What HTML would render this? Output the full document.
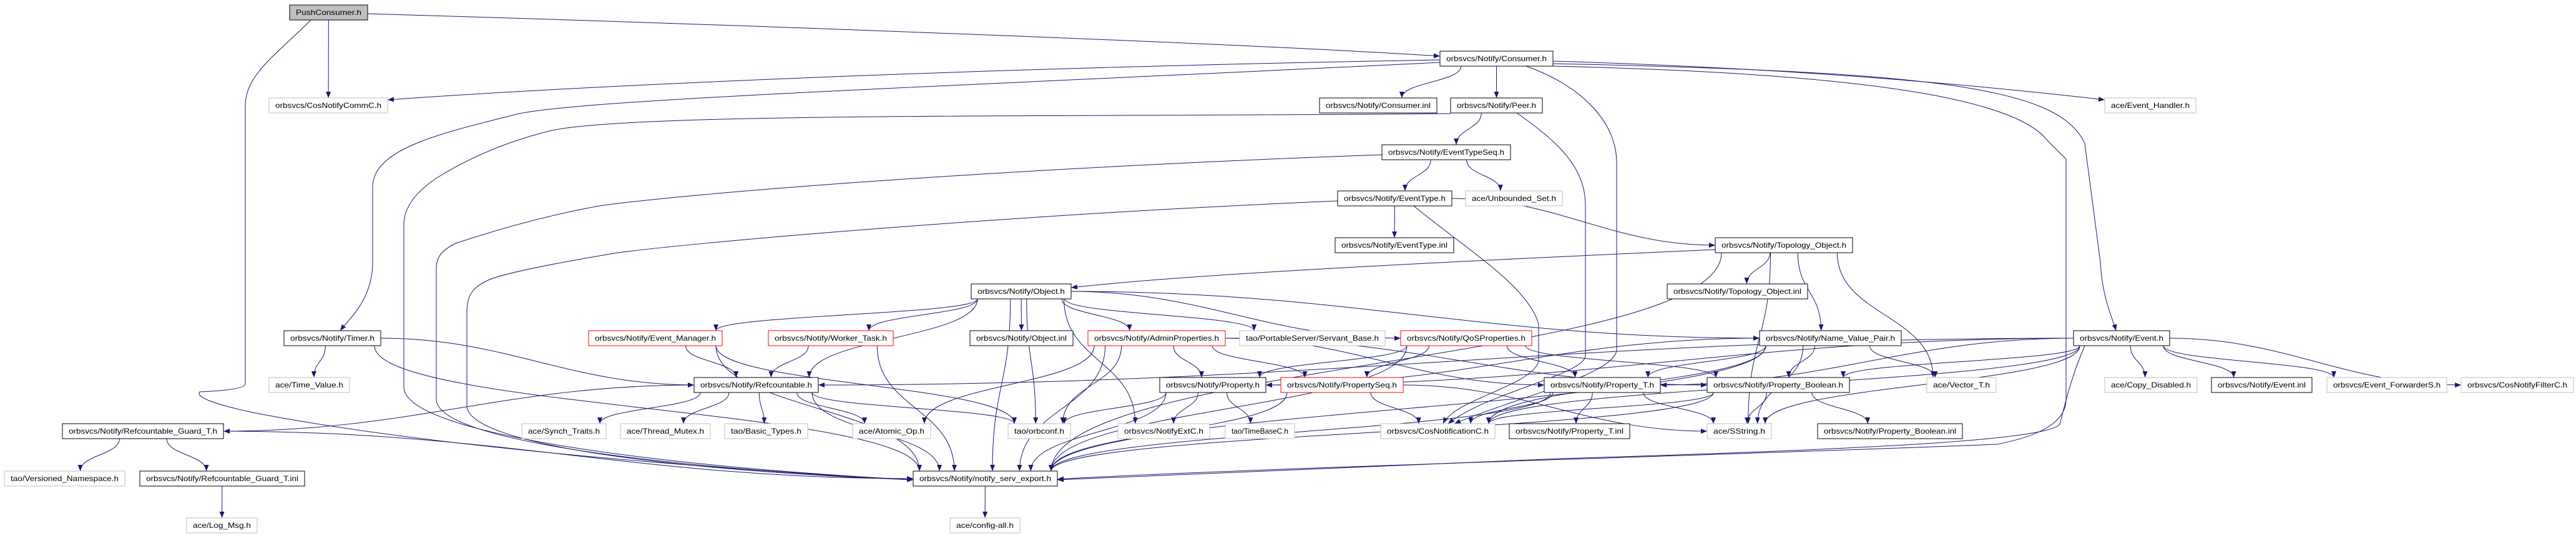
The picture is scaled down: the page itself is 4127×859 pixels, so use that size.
<!DOCTYPE html>
<html><head><meta charset="utf-8"><style>
html,body{margin:0;padding:0;background:#fff;}
svg{display:block;}
text{font-family:"Liberation Sans",sans-serif;font-size:12px;fill:#000;}
</style></head><body>
<svg id="g" width="4127" height="859" xmlns="http://www.w3.org/2000/svg">
<defs><marker id="a" viewBox="0 0 10 8" refX="10" refY="4" markerWidth="10" markerHeight="8" markerUnits="userSpaceOnUse" orient="auto"><path d="M0,0L10,4L0,8z" fill="#191970"/></marker></defs>
<g id="edges" fill="none" stroke="#191970" stroke-width="1"></g>
<g id="nodes" stroke-width="1">
<rect x="464" y="8" width="125" height="24" fill="#bfbfbf" stroke="#000"/><text x="474" y="24" textLength="105" lengthAdjust="spacingAndGlyphs">PushConsumer.h</text>
<rect x="431" y="157" width="190" height="24" fill="#fff" stroke="#bfbfbf"/><text x="441" y="173" textLength="170" lengthAdjust="spacingAndGlyphs">orbsvcs/CosNotifyCommC.h</text>
<rect x="2307" y="82" width="181" height="24" fill="#fff" stroke="#000"/><text x="2317" y="98" textLength="161" lengthAdjust="spacingAndGlyphs">orbsvcs/Notify/Consumer.h</text>
<rect x="2114" y="157" width="188" height="24" fill="#fff" stroke="#000"/><text x="2124" y="173" textLength="168" lengthAdjust="spacingAndGlyphs">orbsvcs/Notify/Consumer.inl</text>
<rect x="2324" y="157" width="147" height="24" fill="#fff" stroke="#000"/><text x="2334" y="173" textLength="127" lengthAdjust="spacingAndGlyphs">orbsvcs/Notify/Peer.h</text>
<rect x="3372" y="157" width="146" height="24" fill="#fff" stroke="#bfbfbf"/><text x="3382" y="173" textLength="126" lengthAdjust="spacingAndGlyphs">ace/Event_Handler.h</text>
<rect x="2214" y="232" width="206" height="24" fill="#fff" stroke="#000"/><text x="2224" y="248" textLength="186" lengthAdjust="spacingAndGlyphs">orbsvcs/Notify/EventTypeSeq.h</text>
<rect x="2143" y="306" width="183" height="24" fill="#fff" stroke="#000"/><text x="2153" y="322" textLength="163" lengthAdjust="spacingAndGlyphs">orbsvcs/Notify/EventType.h</text>
<rect x="2348" y="306" width="155" height="24" fill="#fff" stroke="#bfbfbf"/><text x="2358" y="322" textLength="135" lengthAdjust="spacingAndGlyphs">ace/Unbounded_Set.h</text>
<rect x="2139" y="381" width="190" height="24" fill="#fff" stroke="#000"/><text x="2149" y="397" textLength="170" lengthAdjust="spacingAndGlyphs">orbsvcs/Notify/EventType.inl</text>
<rect x="2748" y="381" width="220" height="24" fill="#fff" stroke="#000"/><text x="2758" y="397" textLength="200" lengthAdjust="spacingAndGlyphs">orbsvcs/Notify/Topology_Object.h</text>
<rect x="1556" y="455" width="160" height="24" fill="#fff" stroke="#000"/><text x="1566" y="471" textLength="140" lengthAdjust="spacingAndGlyphs">orbsvcs/Notify/Object.h</text>
<rect x="2671" y="455" width="225" height="24" fill="#fff" stroke="#000"/><text x="2681" y="471" textLength="205" lengthAdjust="spacingAndGlyphs">orbsvcs/Notify/Topology_Object.inl</text>
<rect x="455" y="530" width="155" height="24" fill="#fff" stroke="#000"/><text x="465" y="546" textLength="135" lengthAdjust="spacingAndGlyphs">orbsvcs/Notify/Timer.h</text>
<rect x="943" y="530" width="214" height="24" fill="#fff" stroke="#f00"/><text x="953" y="546" textLength="194" lengthAdjust="spacingAndGlyphs">orbsvcs/Notify/Event_Manager.h</text>
<rect x="1231" y="530" width="200" height="24" fill="#fff" stroke="#f00"/><text x="1241" y="546" textLength="180" lengthAdjust="spacingAndGlyphs">orbsvcs/Notify/Worker_Task.h</text>
<rect x="1554" y="530" width="165" height="24" fill="#fff" stroke="#000"/><text x="1564" y="546" textLength="145" lengthAdjust="spacingAndGlyphs">orbsvcs/Notify/Object.inl</text>
<rect x="1743" y="530" width="220" height="24" fill="#fff" stroke="#f00"/><text x="1753" y="546" textLength="200" lengthAdjust="spacingAndGlyphs">orbsvcs/Notify/AdminProperties.h</text>
<rect x="1986" y="530" width="233" height="24" fill="#fff" stroke="#bfbfbf"/><text x="1996" y="546" textLength="213" lengthAdjust="spacingAndGlyphs">tao/PortableServer/Servant_Base.h</text>
<rect x="2244" y="530" width="210" height="24" fill="#fff" stroke="#f00"/><text x="2254" y="546" textLength="190" lengthAdjust="spacingAndGlyphs">orbsvcs/Notify/QoSProperties.h</text>
<rect x="2819" y="530" width="227" height="24" fill="#fff" stroke="#000"/><text x="2829" y="546" textLength="207" lengthAdjust="spacingAndGlyphs">orbsvcs/Notify/Name_Value_Pair.h</text>
<rect x="3322" y="530" width="154" height="24" fill="#fff" stroke="#000"/><text x="3332" y="546" textLength="134" lengthAdjust="spacingAndGlyphs">orbsvcs/Notify/Event.h</text>
<rect x="431" y="605" width="129" height="24" fill="#fff" stroke="#bfbfbf"/><text x="441" y="621" textLength="109" lengthAdjust="spacingAndGlyphs">ace/Time_Value.h</text>
<rect x="1112" y="605" width="199" height="24" fill="#fff" stroke="#000"/><text x="1122" y="621" textLength="179" lengthAdjust="spacingAndGlyphs">orbsvcs/Notify/Refcountable.h</text>
<rect x="1858" y="605" width="170" height="24" fill="#fff" stroke="#000"/><text x="1868" y="621" textLength="150" lengthAdjust="spacingAndGlyphs">orbsvcs/Notify/Property.h</text>
<rect x="2052" y="605" width="196" height="24" fill="#fff" stroke="#f00"/><text x="2062" y="621" textLength="176" lengthAdjust="spacingAndGlyphs">orbsvcs/Notify/PropertySeq.h</text>
<rect x="2474" y="605" width="186" height="24" fill="#fff" stroke="#000"/><text x="2484" y="621" textLength="166" lengthAdjust="spacingAndGlyphs">orbsvcs/Notify/Property_T.h</text>
<rect x="2735" y="605" width="228" height="24" fill="#fff" stroke="#000"/><text x="2745" y="621" textLength="208" lengthAdjust="spacingAndGlyphs">orbsvcs/Notify/Property_Boolean.h</text>
<rect x="3087" y="605" width="111" height="24" fill="#fff" stroke="#bfbfbf"/><text x="3097" y="621" textLength="91" lengthAdjust="spacingAndGlyphs">ace/Vector_T.h</text>
<rect x="3372" y="605" width="148" height="24" fill="#fff" stroke="#bfbfbf"/><text x="3382" y="621" textLength="128" lengthAdjust="spacingAndGlyphs">ace/Copy_Disabled.h</text>
<rect x="3543" y="605" width="161" height="24" fill="#fff" stroke="#000"/><text x="3553" y="621" textLength="141" lengthAdjust="spacingAndGlyphs">orbsvcs/Notify/Event.inl</text>
<rect x="3728" y="605" width="192" height="24" fill="#fff" stroke="#bfbfbf"/><text x="3738" y="621" textLength="172" lengthAdjust="spacingAndGlyphs">orbsvcs/Event_ForwarderS.h</text>
<rect x="3943" y="605" width="180" height="24" fill="#fff" stroke="#bfbfbf"/><text x="3953" y="621" textLength="160" lengthAdjust="spacingAndGlyphs">orbsvcs/CosNotifyFilterC.h</text>
<rect x="100" y="679" width="258" height="24" fill="#fff" stroke="#000"/><text x="110" y="695" textLength="238" lengthAdjust="spacingAndGlyphs">orbsvcs/Notify/Refcountable_Guard_T.h</text>
<rect x="836" y="679" width="135" height="24" fill="#fff" stroke="#bfbfbf"/><text x="846" y="695" textLength="115" lengthAdjust="spacingAndGlyphs">ace/Synch_Traits.h</text>
<rect x="994" y="679" width="144" height="24" fill="#fff" stroke="#bfbfbf"/><text x="1004" y="695" textLength="124" lengthAdjust="spacingAndGlyphs">ace/Thread_Mutex.h</text>
<rect x="1161" y="679" width="133" height="24" fill="#fff" stroke="#bfbfbf"/><text x="1171" y="695" textLength="113" lengthAdjust="spacingAndGlyphs">tao/Basic_Types.h</text>
<rect x="1366" y="679" width="125" height="24" fill="#fff" stroke="#bfbfbf"/><text x="1376" y="695" textLength="105" lengthAdjust="spacingAndGlyphs">ace/Atomic_Op.h</text>
<rect x="1615" y="679" width="100" height="24" fill="#fff" stroke="#bfbfbf"/><text x="1625" y="695" textLength="80" lengthAdjust="spacingAndGlyphs">tao/orbconf.h</text>
<rect x="1791" y="679" width="147" height="24" fill="#fff" stroke="#bfbfbf"/><text x="1801" y="695" textLength="127" lengthAdjust="spacingAndGlyphs">orbsvcs/NotifyExtC.h</text>
<rect x="1963" y="679" width="111" height="24" fill="#fff" stroke="#bfbfbf"/><text x="1973" y="695" textLength="91" lengthAdjust="spacingAndGlyphs">tao/TimeBaseC.h</text>
<rect x="2212" y="679" width="183" height="24" fill="#fff" stroke="#bfbfbf"/><text x="2222" y="695" textLength="163" lengthAdjust="spacingAndGlyphs">orbsvcs/CosNotificationC.h</text>
<rect x="2418" y="679" width="193" height="24" fill="#fff" stroke="#000"/><text x="2428" y="695" textLength="173" lengthAdjust="spacingAndGlyphs">orbsvcs/Notify/Property_T.inl</text>
<rect x="2735" y="679" width="103" height="24" fill="#fff" stroke="#bfbfbf"/><text x="2745" y="695" textLength="83" lengthAdjust="spacingAndGlyphs">ace/SString.h</text>
<rect x="2912" y="679" width="232" height="24" fill="#fff" stroke="#000"/><text x="2922" y="695" textLength="212" lengthAdjust="spacingAndGlyphs">orbsvcs/Notify/Property_Boolean.inl</text>
<rect x="7" y="755" width="193" height="24" fill="#fff" stroke="#bfbfbf"/><text x="17" y="771" textLength="173" lengthAdjust="spacingAndGlyphs">tao/Versioned_Namespace.h</text>
<rect x="224" y="755" width="264" height="24" fill="#fff" stroke="#000"/><text x="234" y="771" textLength="244" lengthAdjust="spacingAndGlyphs">orbsvcs/Notify/Refcountable_Guard_T.inl</text>
<rect x="1463" y="755" width="231" height="24" fill="#fff" stroke="#000"/><text x="1473" y="771" textLength="211" lengthAdjust="spacingAndGlyphs">orbsvcs/Notify/notify_serv_export.h</text>
<rect x="299" y="830" width="113" height="24" fill="#fff" stroke="#bfbfbf"/><text x="309" y="846" textLength="93" lengthAdjust="spacingAndGlyphs">ace/Log_Msg.h</text>
<rect x="1522" y="830" width="112" height="24" fill="#fff" stroke="#bfbfbf"/><text x="1532" y="846" textLength="92" lengthAdjust="spacingAndGlyphs">ace/config-all.h</text>
</g>
</svg>
<script>
var N={PC:[464,589,20],CNCommC:[431,621,169],Consumer:[2307,2488,94],ConsInl:[2114,2302,169],Peer:[2324,2471,169],EvH:[3372,3518,169],ETSeq:[2214,2420,244],ET:[2143,2326,318],Unb:[2348,2503,318],ETInl:[2139,2329,393],Topo:[2748,2968,393],Obj:[1556,1716,467],TopoInl:[2671,2896,467],Timer:[455,610,542],EvMgr:[943,1157,542],Worker:[1231,1431,542],ObjInl:[1554,1719,542],Admin:[1743,1963,542],Servant:[1986,2219,542],QoS:[2244,2454,542],NVP:[2819,3046,542],Event:[3322,3476,542],TV:[431,560,617],Refc:[1112,1311,617],Prop:[1858,2028,617],PSeq:[2052,2248,617],PT:[2474,2660,617],PB:[2735,2963,617],Vec:[3087,3198,617],Copy:[3372,3520,617],EvInl:[3543,3704,617],Fwd:[3728,3920,617],Filt:[3943,4123,617],RG:[100,358,691],Synch:[836,971,691],TM:[994,1138,691],BT:[1161,1294,691],AO:[1366,1491,691],orbconf:[1615,1715,691],NExt:[1791,1938,691],TB:[1963,2074,691],CosN:[2212,2395,691],PTInl:[2418,2611,691],SS:[2735,2838,691],PBInl:[2912,3144,691],Ver:[7,200,767],RGInl:[224,488,767],Exp:[1463,1694,767],Log:[299,412,842],Cfg:[1522,1634,842]};
var P={
"PC>Consumer":"M589,22 C1200,40 2000,70 2307,90",
"PC>Exp":"M498,32 C440,90 393,120 393,170 L393,615 Q393,625 320,628 Q310,640 400,660 C700,720 1200,755 1463,769",
"Consumer>CNCommC":"M2307,96 C1500,110 900,140 621,160",
"Consumer>EvH":"M2488,98 C2900,110 3200,140 3372,160",
"Consumer>Timer":"M2307,100 C1500,140 900,160 820,185 C700,215 597,240 597,300 L597,420 C597,480 560,510 545,530",
"Consumer>Event":"M2488,102 C3100,115 3300,140 3340,230 L3365,420 C3368,480 3385,510 3390,530",
"Consumer>Exp":"M2488,106 C3000,118 3230,160 3280,225 L3310,255 L3310,640 C3310,680 3260,700 3200,712 C2900,725 2000,750 1694,768",
"Consumer>CosN":"M2445,106 C2540,140 2590,200 2590,260 L2590,560 C2590,600 2420,640 2330,679",
"Peer>CosN":"M2430,181 C2500,230 2540,270 2540,330 L2540,570 C2540,600 2380,630 2320,679",
"ET>CosN":"M2265,330 C2350,400 2450,460 2465,520 L2465,580 C2450,620 2330,640 2312,679",
"Peer>Exp":"M2324,182 C1700,188 1000,180 880,210 C800,230 740,260 700,285 C670,305 647,330 647,360 L647,620 C647,700 1100,750 1463,769",
"ETSeq>Exp":"M2214,248 C1600,270 1100,310 960,330 C850,350 760,380 730,390 C710,400 699,410 699,430 L699,640 C699,710 1100,752 1463,769",
"ET>Exp":"M2143,322 C1600,345 1100,390 990,405 C870,425 800,440 780,450 C760,460 748,470 748,500 L748,650 C748,715 1100,755 1463,769",
"Topo>Obj":"M2748,400 C2300,420 1900,440 1716,461",
"Event>Exp":"M3340,554 C3320,600 3310,640 3300,680 C3280,705 3000,720 2500,735 L1694,769"
};
var E="PC>CNCommC PC>Consumer PC>Exp Consumer>CNCommC Consumer>ConsInl Consumer>Peer Consumer>EvH Consumer>Event Consumer>Timer Consumer>Exp Consumer>CosN Peer>ETSeq Peer>Exp Peer>CosN ETSeq>ET ETSeq>Unb ETSeq>Exp ET>ETInl ET>Topo ET>Exp ET>CosN Topo>Obj Topo>TopoInl Topo>NVP Topo>Vec Topo>SS Topo>Exp Obj>ObjInl Obj>Admin Obj>Servant Obj>QoS Obj>EvMgr Obj>Worker Obj>Refc Obj>Exp Obj>orbconf Obj>NExt Obj>NVP Timer>TV Timer>Refc Timer>Exp EvMgr>Refc EvMgr>Exp EvMgr>orbconf Worker>Refc Worker>Exp Admin>Prop Admin>PSeq Admin>PT Admin>orbconf Admin>AO Admin>Exp Admin>PB QoS>Prop QoS>PSeq QoS>PT QoS>PB QoS>Exp NVP>Prop NVP>PT NVP>PB NVP>Vec NVP>SS NVP>Exp NVP>CosN Event>Refc Event>Copy Event>EvInl Event>Fwd Event>Filt Event>Prop Event>PT Event>PB Event>CosN Event>Exp Event>SS Refc>RG Refc>Synch Refc>TM Refc>BT Refc>AO Refc>orbconf Refc>Exp Prop>orbconf Prop>NExt Prop>TB Prop>Exp PSeq>CosN PSeq>SS PSeq>Exp PT>CosN PT>PTInl PT>SS PT>Exp PB>PBInl PB>SS PB>Exp PB>CosN RG>Ver RG>RGInl RG>Exp RGInl>Log Exp>Cfg".split(" ");
var g=document.getElementById("edges"),s="";
E.forEach(function(e){var d=P[e];
if(!d){var p=e.split(">"),a=N[p[0]],b=N[p[1]];
var ac=(a[0]+a[1])/2,bc=(b[0]+b[1])/2,x1,y1,x2,y2;
if(b[2]-a[2]<100&&Math.abs(bc-ac)>600){
 if(bc>ac){x1=a[1];x2=b[0];}else{x1=a[0];x2=b[1];}
 y1=a[2];y2=b[2];
 d="M"+x1+","+y1+"C"+(x1+(x2-x1)*0.4)+","+y1+" "+(x1+(x2-x1)*0.6)+","+y2+" "+x2+","+y2;
}else{
 var w=(a[1]-a[0])/2-10;var dx=Math.max(-w,Math.min(w,(bc-ac)*0.3));
 x1=ac+dx;y1=a[2]+12;
 var w2=(b[1]-b[0])/2-10;var dx2=Math.max(-w2,Math.min(w2,(ac-bc)*0.2));
 x2=bc+dx2;y2=b[2]-12;
 var my=(y2-y1);
 d="M"+x1+","+y1+"C"+x1+","+(y1+my*0.5)+" "+x2+","+(y2-my*0.5)+" "+x2+","+y2;
}}
s+='<path d="'+d+'" marker-end="url(#a)"/>';});
g.innerHTML=s;
</script>
</body></html>
